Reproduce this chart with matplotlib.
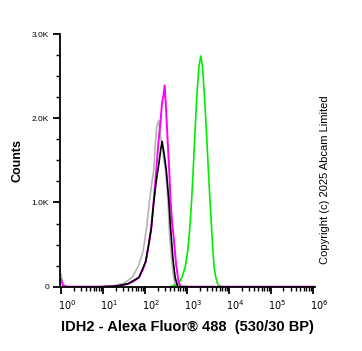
import matplotlib
matplotlib.use("Agg")
import matplotlib.pyplot as plt
import matplotlib.transforms as mtransforms
import numpy as np
from matplotlib.ticker import FixedLocator, NullFormatter

plt.rcParams["font.family"] = ["Liberation Sans", "DejaVu Sans"]

# ── Data (log10 of fluorescence, event counts) ────────────────────────────────
gray_log = [0.0, 0.05, 0.15, 0.9, 1.26, 1.5, 1.70, 1.85, 1.96, 2.04, 2.11,
            2.17, 2.21, 2.25, 2.28, 2.33, 2.37, 2.43, 2.49, 2.55, 2.59, 2.65,
            2.72, 3.0]
gray_cnt = [150, 30, 0, 0, 12, 40, 111, 250, 428, 700, 1024,
            1250, 1380, 1700, 1895, 1975, 1800, 1600, 1380, 1024, 600, 250,
            0, 0]

magenta_log = [0.0, 0.05, 0.15, 1.0, 1.2, 1.42, 1.6, 1.75, 1.86, 1.95, 2.02,
               2.09, 2.15, 2.21, 2.27, 2.32, 2.37, 2.41, 2.44, 2.47, 2.50,
               2.54, 2.58, 2.61, 2.65, 2.69, 2.74, 2.80, 2.85, 6.05]
magenta_cnt = [90, 10, 0, 0, 4, 12, 35, 70, 111, 200, 300,
               500, 700, 1024, 1380, 1700, 1950, 2190, 2260, 2390, 2150,
               1750, 1380, 1024, 750, 560, 280, 60, 0, 0]

black_log = [1.0, 1.3, 1.6, 1.86, 2.02, 2.09, 2.15, 2.21, 2.27, 2.33, 2.38,
             2.41, 2.45, 2.51, 2.57, 2.61, 2.67, 2.72, 2.78, 3.0]
black_cnt = [0, 6, 35, 111, 300, 500, 680, 1000, 1250, 1450, 1640,
             1725, 1600, 1380, 1024, 700, 320, 110, 0, 0]

green_log = [2.6, 2.65, 2.72, 2.80, 2.88, 2.96, 3.02, 3.07, 3.11, 3.15, 3.19,
             3.24, 3.29, 3.33, 3.37, 3.42, 3.47, 3.52, 3.57, 3.62, 3.65, 3.69,
             3.73, 3.79, 3.85]
green_cnt = [0, 8, 18, 36, 110, 230, 428, 700, 1000, 1380, 1800,
             2300, 2620, 2740, 2620, 2250, 1800, 1300, 850, 428, 230, 110,
             36, 5, 0]

GRAY = "#b4b4b4"
MAGENTA = "#ff00ff"
GREEN = "#00ee00"

fig = plt.figure(figsize=(3.62, 3.51), dpi=100)
ax = fig.add_axes([0.166, 0.182, 0.704, 0.721])

ax.plot(10 ** np.array(gray_log), gray_cnt, color=GRAY, lw=1.2)
ax.plot(10 ** np.array(green_log), green_cnt, color=GREEN, lw=1.2)
ax.plot(10 ** np.array(magenta_log), magenta_cnt, color=MAGENTA, lw=1.4)
ax.plot(10 ** np.array(black_log), black_cnt, color="black", lw=1.2)

ax.set_xscale("log")
ax.set_xlim(10 ** -0.02, 10 ** 6.05)
ax.set_ylim(-5, 3000)

ax.set_xticks([10 ** k for k in range(7)])
ax.set_xticklabels([f"$10^{{{k}}}$" for k in range(7)], fontsize=7)
minors = [m * 10 ** k for k in range(6) for m in range(2, 10)]
ax.xaxis.set_minor_locator(FixedLocator(minors))
ax.xaxis.set_minor_formatter(NullFormatter())

ax.set_yticks([0, 1000, 2000, 3000])
ax.set_yticklabels(["0", "1.0K", "2.0K", "3.0K"], fontsize=6)
ax.yaxis.set_minor_locator(FixedLocator([250, 500, 750, 1250, 1500, 1750,
                                         2250, 2500, 2750]))

for s in ["top", "right"]:
    ax.spines[s].set_visible(False)
for s in ["left", "bottom"]:
    ax.spines[s].set_linewidth(1.3)
ax.tick_params(which="major", length=5, width=1.3, pad=3)
ax.tick_params(which="minor", length=3, width=1.0)

offset = mtransforms.ScaledTranslation(6 / 100, 0, fig.dpi_scale_trans)
for lab in ax.get_xticklabels():
    lab.set_transform(lab.get_transform() + offset)

ax.set_xlabel("IDH2 - Alexa Fluor\u00ae 488  (530/30 BP)", fontsize=10.5,
              fontweight="bold", labelpad=6)
ax.set_ylabel("Counts", fontsize=9, fontweight="bold", labelpad=6)

fig.text(0.898, 0.487, "Copyright (c) 2025 Abcam Limited", rotation=90,
         fontsize=8, ha="center", va="center")

fig.savefig("out.png", dpi=100, facecolor="white")
